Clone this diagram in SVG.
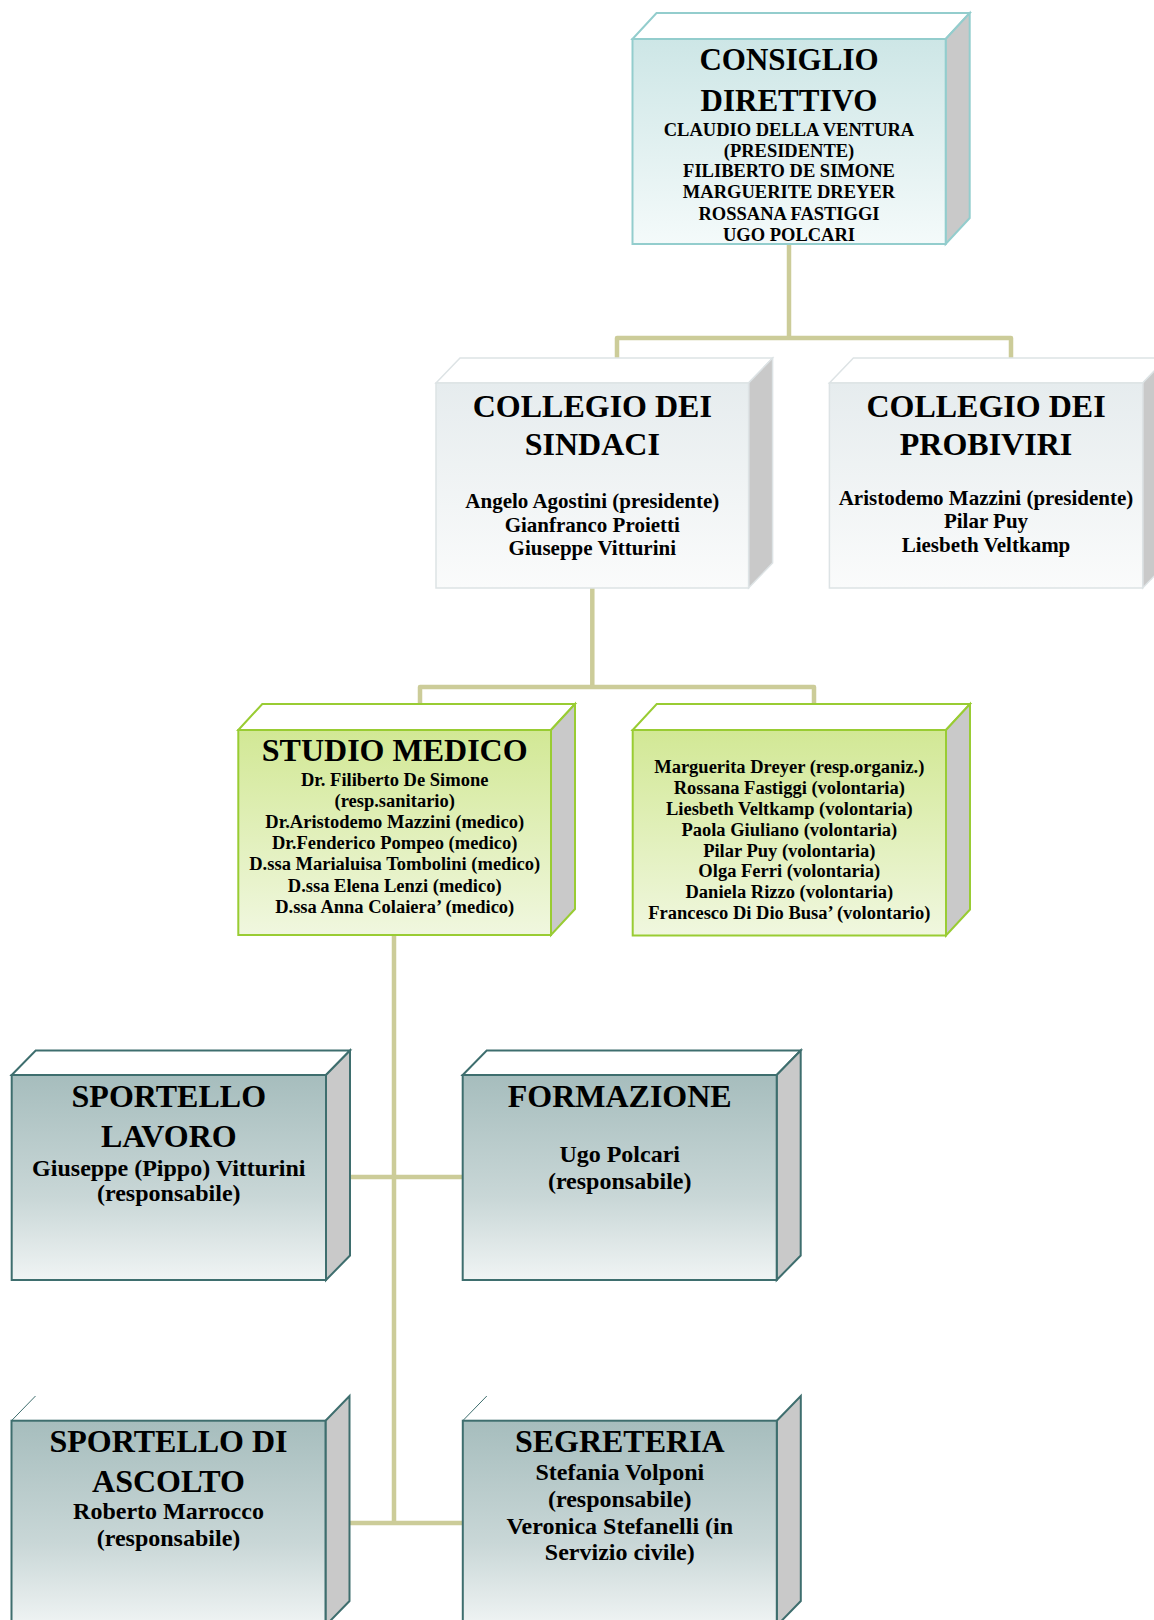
<svg xmlns="http://www.w3.org/2000/svg" width="1154" height="1620" viewBox="0 0 1154 1620">
<defs>
<linearGradient id="gTeal" x1="0" y1="0" x2="0" y2="1"><stop offset="0" stop-color="#cde6e6"/><stop offset="1" stop-color="#f4fafa"/></linearGradient>
<linearGradient id="gGray" x1="0" y1="0" x2="0" y2="1"><stop offset="0" stop-color="#e6ecee"/><stop offset="1" stop-color="#fafbfb"/></linearGradient>
<linearGradient id="gGreen" x1="0" y1="0" x2="0" y2="1"><stop offset="0" stop-color="#d2e895"/><stop offset="1" stop-color="#f0f7df"/></linearGradient>
<linearGradient id="gDark" x1="0" y1="0" x2="0" y2="1"><stop offset="0" stop-color="#a6bdbd"/><stop offset="0.6" stop-color="#c9d7d7"/><stop offset="1" stop-color="#f0f4f4"/></linearGradient>
</defs>
<style>
text{font-family:"Liberation Serif","Times New Roman",serif;font-weight:bold;fill:#000;text-anchor:middle}
.h{font-size:31px}
.h2{font-size:32px}
.s{font-size:18.5px}
.m{font-size:21px}
.l{font-size:24px}
.conn{fill:none;stroke:#cccc99;stroke-width:4.5;stroke-linejoin:round}
.side{fill:#c9c9c9}
.top{fill:#ffffff}
.teal{stroke:#93cdcd;stroke-width:2}
.gray{stroke:#dde3e5;stroke-width:1.5}
.green{stroke:#99cc33;stroke-width:2}
.dark{stroke:#3e6e6e;stroke-width:2}
.thin{stroke:#3e6e6e;stroke-width:1;fill:none}
</style>
<g id="connectors">
<path class="conn" d="M789,244 V338"/>
<path class="conn" d="M617,358 V338 H1011 V358"/>
<path class="conn" d="M592.3,588 V687"/>
<path class="conn" d="M420,704 V687 H814 V704"/>
<path class="conn" d="M394,935 V1523"/>
<path class="conn" d="M350,1177 H462.7"/>
<path class="conn" d="M349.5,1523 H462.8"/>
</g>
<g id="consiglio-direttivo">
<polygon class="top teal" points="632.5,39 656.5,13 969.7,13 945.7,39"/>
<polygon class="side teal" points="945.7,39 969.7,13 969.7,218 945.7,244"/>
<rect class="teal" x="632.5" y="39" width="313.2" height="205" fill="url(#gTeal)"/>
<text class="h" x="789" y="69.5">CONSIGLIO</text>
<text class="h" x="789" y="110.5">DIRETTIVO</text>
<text class="s" x="789" y="135.5">CLAUDIO DELLA VENTURA</text>
<text class="s" x="789" y="156.5">(PRESIDENTE)</text>
<text class="s" x="789" y="177">FILIBERTO DE SIMONE</text>
<text class="s" x="789" y="198">MARGUERITE DREYER</text>
<text class="s" x="789" y="219.5">ROSSANA FASTIGGI</text>
<text class="s" x="789" y="240.5">UGO POLCARI</text>
</g>
<g id="collegio-sindaci">
<polygon class="top gray" points="436,383 460,358 772.6,358 748.6,383"/>
<polygon class="side gray" points="748.6,383 772.6,358 772.6,563 748.6,588"/>
<rect class="gray" x="436" y="383" width="312.6" height="205" fill="url(#gGray)"/>
<text class="h2" x="592.3" y="416.7">COLLEGIO DEI</text>
<text class="h2" x="592.3" y="455">SINDACI</text>
<text class="m" x="592.3" y="508.3">Angelo Agostini (presidente)</text>
<text class="m" x="592.3" y="531.7">Gianfranco Proietti</text>
<text class="m" x="592.3" y="555">Giuseppe Vitturini</text>
</g>
<g id="collegio-probiviri">
<polygon class="top gray" points="829.4,383 853.4,358 1166.7,358 1142.7,383"/>
<polygon class="side gray" points="1142.7,383 1166.7,358 1166.7,563 1142.7,588"/>
<rect class="gray" x="829.4" y="383" width="313.3" height="205" fill="url(#gGray)"/>
<text class="h2" x="986" y="416.7">COLLEGIO DEI</text>
<text class="h2" x="986" y="455">PROBIVIRI</text>
<text class="m" x="986" y="505">Aristodemo Mazzini (presidente)</text>
<text class="m" x="986" y="528.3">Pilar Puy</text>
<text class="m" x="986" y="551.7">Liesbeth Veltkamp</text>
</g>
<g id="studio-medico">
<polygon class="top green" points="238.3,730 262.3,704 575,704 551,730"/>
<polygon class="side green" points="551,730 575,704 575,909 551,935"/>
<rect class="green" x="238.3" y="730" width="312.7" height="205" fill="url(#gGreen)"/>
<text class="h2" x="394.7" y="760.7">STUDIO MEDICO</text>
<text class="s" x="394.7" y="785.7">Dr. Filiberto De Simone</text>
<text class="s" x="394.7" y="806.8">(resp.sanitario)</text>
<text class="s" x="394.7" y="828">Dr.Aristodemo Mazzini (medico)</text>
<text class="s" x="394.7" y="849.2">Dr.Fenderico Pompeo (medico)</text>
<text class="s" x="394.7" y="870.4">D.ssa Marialuisa Tombolini (medico)</text>
<text class="s" x="394.7" y="891.5">D.ssa Elena Lenzi (medico)</text>
<text class="s" x="394.7" y="912.7">D.ssa Anna Colaiera’ (medico)</text>
</g>
<g id="volontari">
<polygon class="top green" points="632.7,730 656.7,704 970,704 946,730"/>
<polygon class="side green" points="946,730 970,704 970,909.5 946,935.5"/>
<rect class="green" x="632.7" y="730" width="313.3" height="205.5" fill="url(#gGreen)"/>
<text class="s" x="789.3" y="772.7">Marguerita Dreyer (resp.organiz.)</text>
<text class="s" x="789.3" y="793.6">Rossana Fastiggi (volontaria)</text>
<text class="s" x="789.3" y="814.6">Liesbeth Veltkamp (volontaria)</text>
<text class="s" x="789.3" y="835.5">Paola Giuliano (volontaria)</text>
<text class="s" x="789.3" y="856.5">Pilar Puy (volontaria)</text>
<text class="s" x="789.3" y="877.4">Olga Ferri (volontaria)</text>
<text class="s" x="789.3" y="898.4">Daniela Rizzo (volontaria)</text>
<text class="s" x="789.3" y="919.3">Francesco Di Dio Busa’ (volontario)</text>
</g>
<g id="sportello-lavoro">
<polygon class="top dark" points="11.7,1075 35.7,1050.5 350,1050.5 326,1075"/>
<polygon class="side dark" points="326,1075 350,1050.5 350,1255.5 326,1280"/>
<rect class="dark" x="11.7" y="1075" width="314.3" height="205" fill="url(#gDark)"/>
<text class="h2" x="168.8" y="1106.7">SPORTELLO</text>
<text class="h2" x="168.8" y="1146.7">LAVORO</text>
<text class="l" x="168.8" y="1175.7">Giuseppe (Pippo) Vitturini</text>
<text class="l" x="168.8" y="1201">(responsabile)</text>
</g>
<g id="formazione">
<polygon class="top dark" points="462.7,1075 486.7,1050.5 800.7,1050.5 776.7,1075"/>
<polygon class="side dark" points="776.7,1075 800.7,1050.5 800.7,1255.5 776.7,1280"/>
<rect class="dark" x="462.7" y="1075" width="314" height="205" fill="url(#gDark)"/>
<text class="h2" x="619.7" y="1106.7">FORMAZIONE</text>
<text class="l" x="619.7" y="1161.7">Ugo Polcari</text>
<text class="l" x="619.7" y="1188.5">(responsabile)</text>
</g>
<g id="sportello-ascolto">
<polygon class="top" points="11.5,1420.7 35.5,1396 349.5,1396 325.5,1420.7"/>
<line class="thin" x1="11.5" y1="1420.7" x2="35.5" y2="1396"/>
<polygon class="side dark" points="325.5,1420.7 349.5,1396 349.5,1601 325.5,1625.7"/>
<rect class="dark" x="11.5" y="1420.7" width="314" height="205" fill="url(#gDark)"/>
<text class="h2" x="168.5" y="1451.7">SPORTELLO DI</text>
<text class="h2" x="168.5" y="1491.7">ASCOLTO</text>
<text class="l" x="168.5" y="1519.3">Roberto Marrocco</text>
<text class="l" x="168.5" y="1545.5">(responsabile)</text>
</g>
<g id="segreteria">
<polygon class="top" points="462.8,1420.7 486.8,1396 800.8,1396 776.8,1420.7"/>
<line class="thin" x1="462.8" y1="1420.7" x2="486.8" y2="1396"/>
<polygon class="side dark" points="776.8,1420.7 800.8,1396 800.8,1601 776.8,1625.7"/>
<rect class="dark" x="462.8" y="1420.7" width="314" height="205" fill="url(#gDark)"/>
<text class="h2" x="619.8" y="1451.7">SEGRETERIA</text>
<text class="l" x="619.8" y="1480">Stefania Volponi</text>
<text class="l" x="619.8" y="1506.5">(responsabile)</text>
<text class="l" x="619.8" y="1533.5">Veronica Stefanelli (in</text>
<text class="l" x="619.8" y="1560">Servizio civile)</text>
</g>
</svg>
